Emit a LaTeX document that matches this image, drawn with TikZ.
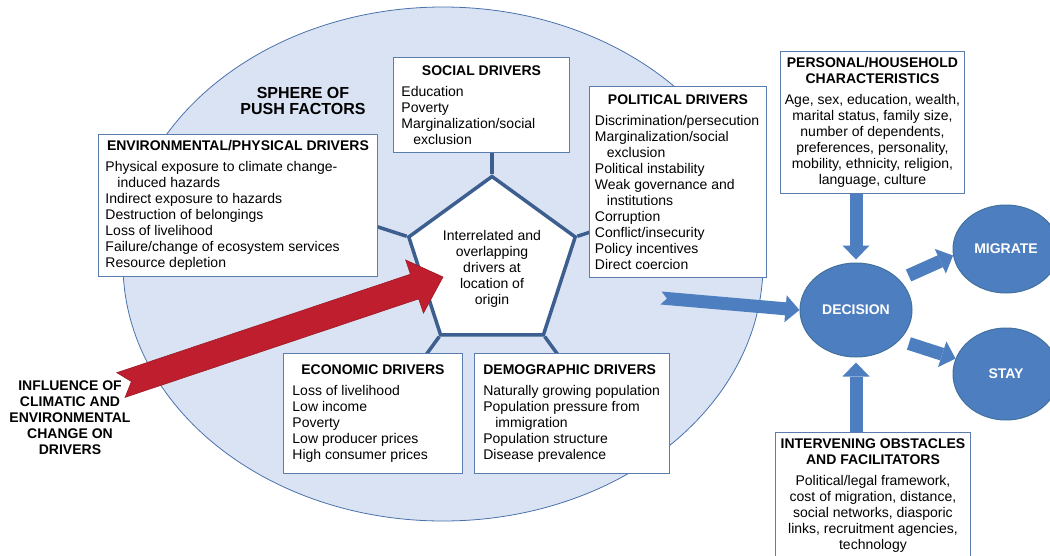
\documentclass[tikz,border=0pt]{standalone}
\usepackage{fontspec}
\setmainfont{Liberation Sans}
\usetikzlibrary{positioning, arrows.meta, shapes.geometric, calc}

\definecolor{spherefill}{HTML}{DAE3F3}
\definecolor{sphereline}{HTML}{4A72AC}
\definecolor{spokeblue}{HTML}{3D5F8F}
\definecolor{boxline}{HTML}{5B7DAE}
\definecolor{flowblue}{HTML}{4D7EBF}
\definecolor{flowedge}{HTML}{41719C}
\definecolor{climatered}{HTML}{BE1E2D}
\definecolor{climateedge}{HTML}{9C1A26}

\begin{document}
\begin{tikzpicture}[
      x=1pt, y=-1pt,
      every node/.style = {font=\fontsize{14pt}{16pt}\selectfont},
      box/.style    = {rectangle, draw=boxline, line width=0.9pt, fill=white,
                       inner xsep=8pt, inner ysep=8pt, align=flush left,
                       anchor=north west},
      cbox/.style   = {box, align=flush center, inner ysep=6pt},
      spokeline/.style = {draw=spokeblue, line width=3.5pt},
      flow/.style   = {draw=flowblue, line width=13pt,
                       -{Triangle[length=14pt, width=27pt, line width=0pt]}},
      flowblock/.style = {fill=flowblue},
      redblock/.style  = {fill=climatered, draw=climateedge, line width=0.6pt},
      outcome/.style = {ellipse, draw=flowedge, fill=flowblue, line width=1pt,
                       inner sep=2pt, text=white,
                       font=\fontsize{14pt}{16pt}\selectfont\bfseries},
    ]
    \useasboundingbox (0,0) rectangle (1050,555);
    \clip (0,0) rectangle (1050,555);

    % Sphere of push factors
    \node[ellipse, draw=sphereline, fill=spherefill, line width=0.8pt,
          minimum width=640pt, minimum height=514pt] (sphere) at (443,264) {};
    \node[align=center, font=\fontsize{16pt}{16pt}\selectfont\bfseries] (title)
          at (303,101) {SPHERE OF\\PUSH FACTORS};

    % Centre pentagon
    \node[regular polygon, regular polygon sides=5, minimum size=175pt,
          draw=spokeblue, line width=3.5pt, fill=white, inner sep=0pt,
          align=center] (pent) at (492,264)
          {\rule{0pt}{20pt}Interrelated and\\overlapping\\drivers at\\location of\\origin};

    % Spokes to the driver boxes
    \draw[spokeline] (pent.corner 1) -- ($(pent.center)!1.45!(pent.corner 1)$);
    \draw[spokeline] (pent.corner 2) -- ($(pent.center)!1.45!(pent.corner 2)$);
    \draw[spokeline] (pent.corner 3) -- ($(pent.center)!1.45!(pent.corner 3)$);
    \draw[spokeline] (pent.corner 4) -- ($(pent.center)!1.45!(pent.corner 4)$);
    \draw[spokeline] (pent.corner 5) -- ($(pent.center)!1.45!(pent.corner 5)$);

    % Driver boxes
    \node[box, text width=160pt] (social) at (393,57)
          {\makebox[\hsize]{\textbf{SOCIAL DRIVERS}}\\[5pt]
           Education\\
           Poverty\\
           Marginalization/social\\
           \hspace*{12pt}exclusion};
    \node[box, text width=166pt, inner xsep=5.5pt] (political) at (589,86)
          {\makebox[\hsize]{\textbf{POLITICAL DRIVERS}}\\[5pt]
           Discrimination/persecution\\
           Marginalization/social\\
           \hspace*{12pt}exclusion\\
           Political instability\\
           Weak governance and\\
           \hspace*{12pt}institutions\\
           Corruption\\
           Conflict/insecurity\\
           Policy incentives\\
           Direct coercion};
    \node[box, text width=265pt, inner xsep=7pt, inner ysep=6pt] (env) at (98,134)
          {\makebox[\hsize]{\textbf{ENVIRONMENTAL/PHYSICAL DRIVERS}}\\[5pt]
           Physical exposure to climate change-\\
           \hspace*{12pt}induced hazards\\
           Indirect exposure to hazards\\
           Destruction of belongings\\
           Loss of livelihood\\
           Failure/change of ecosystem services\\
           Resource depletion};
    \node[box, text width=161pt, inner xsep=9pt, minimum height=120pt] (econ) at (283,353)
          {\makebox[\hsize]{\textbf{ECONOMIC DRIVERS}}\\[5pt]
           Loss of livelihood\\
           Low income\\
           Poverty\\
           Low producer prices\\
           High consumer prices};
    \node[box, text width=183pt, inner xsep=6pt, minimum height=120pt,
          right=11pt of econ] (demog)
          {\makebox[\hsize][l]{\hspace{3pt}\textbf{DEMOGRAPHIC DRIVERS}}\\[5pt]
           \hspace*{3pt}Naturally growing population\\
           \hspace*{3pt}Population pressure from\\
           \hspace*{15pt}immigration\\
           \hspace*{3pt}Population structure\\
           \hspace*{3pt}Disease prevalence};

    % Climate influence
    \node[align=center, font=\fontsize{14pt}{16pt}\selectfont\bfseries] (influence)
          at (70,418) {INFLUENCE OF\\CLIMATIC AND\\ENVIRONMENTAL\\CHANGE ON\\DRIVERS};
    \coordinate (climate) at (121,385);
    \coordinate (origin) at ($(pent.center)+(-49,13)$);
    \coordinate (redbase) at ($(origin)!30pt!(climate)$);
    \draw[redblock] ($(climate)!13pt!90:(origin)$) -- ($(redbase)!13pt!90:(origin)$)
          -- ($(redbase)!28pt!90:(origin)$) -- (origin)
          -- ($(redbase)!28pt!-90:(origin)$) -- ($(redbase)!13pt!-90:(origin)$)
          -- ($(climate)!13pt!-90:(origin)$) -- ($(climate)!11pt!(origin)$) -- cycle;

    % Decision side
    \node[cbox, text width=180pt, inner xsep=2pt] (pers) at (780,51)
          {\textbf{PERSONAL/HOUSEHOLD}\\\textbf{CHARACTERISTICS}\\[5pt]
           Age, sex, education, wealth,\\
           marital status, family size,\\
           number of dependents,\\
           preferences, personality,\\
           mobility, ethnicity, religion,\\
           language, culture};
    \node[cbox, text width=189pt, inner xsep=3pt] (inter) at (775,432)
          {\textbf{INTERVENING OBSTACLES}\\\textbf{AND FACILITATORS}\\[5pt]
           Political/legal framework,\\
           cost of migration, distance,\\
           social networks, diasporic\\
           links, recruitment agencies,\\
           technology};

    \node[outcome, minimum width=112pt, minimum height=94pt] (dec)  at (856,310) {DECISION};
    \node[outcome, minimum width=106pt, minimum height=88pt] (mig)  at (1006,249) {MIGRATE};
    \node[outcome, minimum width=106pt, minimum height=92pt] (stay) at (1006,374) {STAY};

    % Flow arrows
    \coordinate (drift) at (661,298);
    \coordinate (driftbase) at ($(dec.west)!14pt!(drift)$);
    \fill[flowblock] ($(drift)!6.5pt!90:(dec.west)$) -- ($(driftbase)!6.5pt!90:(dec.west)$)
          -- ($(driftbase)!13.5pt!90:(dec.west)$) -- (dec.west)
          -- ($(driftbase)!13.5pt!-90:(dec.west)$) -- ($(driftbase)!6.5pt!-90:(dec.west)$)
          -- ($(drift)!6.5pt!-90:(dec.west)$) -- ($(drift)!6pt!(dec.west)$) -- cycle;
    \draw[flow, shorten >=3pt] (pers.south -| dec.north) -- (dec.north);
    \draw[flow, shorten >=5pt] (inter.north -| dec.south) -- (dec.south);
    \draw[flow, shorten <=10pt] (dec.35) -- (mig.187);
    \draw[flow, shorten <=10pt] (dec.-35) -- (stay.163);
  \end{tikzpicture}
\end{document}
